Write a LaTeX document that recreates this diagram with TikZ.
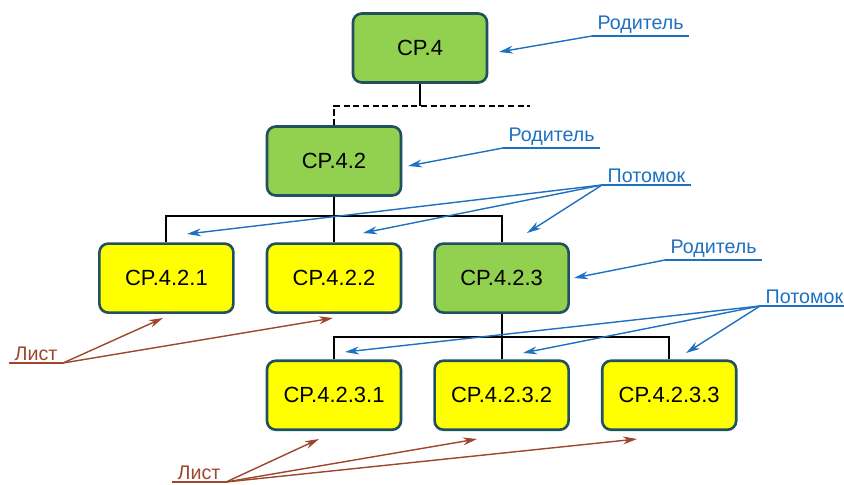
\documentclass[tikz,border=0pt]{standalone}
\usepackage{fontspec}
\setmainfont{Liberation Sans}
\usetikzlibrary{positioning,arrows.meta}
\definecolor{boxgreen}{RGB}{146,208,80}
\definecolor{boxline}{RGB}{33,80,96}
\definecolor{boxyellow}{RGB}{255,255,0}
\definecolor{tagblue}{RGB}{30,112,192}
\definecolor{tagbrown}{RGB}{158,70,44}
\begin{document}
\begin{tikzpicture}[x=0.02cm, y=-0.02cm, node distance={0.91cm and 0.62cm},
    main/.style = {draw=boxline, line width=1.5pt, rounded corners=5pt, minimum width=2.68cm, minimum height=1.38cm, font=\fontsize{12.5}{15}\selectfont},
    parent/.style = {main, fill=boxgreen},
    leaf/.style = {main, fill=boxyellow},
    link/.style = {line width=1.1pt},
    tag/.style = {inner xsep=3pt, inner ysep=1pt, font=\fontsize{11.2}{13}\selectfont},
    pointer/.style = {line width=0.8pt, -{Stealth[length=8pt, width=4.5pt]}}]
    \useasboundingbox (0,0) rectangle (844,484);

    % boxes
    \node[parent] (n4) at (420,48) {CP.4};
    \node[parent] (n42) at (334,161) {CP.4.2};
    \node[leaf] (n422) [below=of n42] {CP.4.2.2};
    \node[leaf] (n421) [left=of n422] {CP.4.2.1};
    \node[parent] (n423) [right=of n422] {CP.4.2.3};
    \node[leaf] (n4232) [below=of n423] {CP.4.2.3.2};
    \node[leaf] (n4231) [left=of n4232] {CP.4.2.3.1};
    \node[leaf] (n4233) [right=of n4232] {CP.4.2.3.3};

    % tree lines
    \draw[link] (n4.south) -- ++(0,22) coordinate (bus0);
    \draw[link, dash pattern=on 3.5pt off 2pt] (n42.north) |- (bus0) -- ++(110,0);
    \draw[link] (n42.south) -- ++(0,19) coordinate (bus1);
    \draw[link] (n421.north) |- (bus1) -| (n423.north);
    \draw[link] (n422.north) -- (n422.north |- bus1);
    \draw[link] (n423.south) -- ++(0,23) coordinate (bus2);
    \draw[link] (n4231.north) |- (bus2) -| (n4233.north);
    \draw[link] (n4232.north) -- (bus2);

    % labels
    \node[tag, tagblue, anchor=south west] (par1) at (592,36) {Родитель};
    \node[tag, tagblue, anchor=south west] (par2) at (503,148) {Родитель};
    \node[tag, tagblue, anchor=south west] (kid1) at (602,185) {Потомок};
    \node[tag, tagblue, anchor=south west] (par3) at (665,260) {Родитель};
    \node[tag, tagblue, anchor=south west] (kid2) at (760,306) {Потомок};
    \node[tag, tagbrown, anchor=south east] (leaf1) at (63,363) {Лист};
    \node[tag, tagbrown, anchor=south east] (leaf2) at (226,482) {Лист};

    \foreach \t in {par1,par2,kid1,par3,kid2}
        \draw[tagblue, line width=0.8pt] (\t.south west) -- (\t.south east);
    \foreach \t in {leaf1,leaf2}
        \draw[tagbrown, line width=0.8pt] (\t.south west) -- (\t.south east);

    % pointers
    \draw[pointer, tagblue] (par1.south west) -- (499,52);
    \draw[pointer, tagblue] (par2.south west) -- (408,166);
    \draw[pointer, tagblue] (par3.south west) -- (574,278);
    \foreach \p in {(187,234),(363,233),(527,233)}
        \draw[pointer, tagblue] (kid1.south west) -- \p;
    \foreach \p in {(345,352),(523,353),(686,353)}
        \draw[pointer, tagblue] (kid2.south west) -- \p;
    \foreach \p in {(163,318),(333,318)}
        \draw[pointer, tagbrown] (leaf1.south east) -- \p;
    \foreach \p in {(319,439),(477,439),(637,439)}
        \draw[pointer, tagbrown] (leaf2.south east) -- \p;
\end{tikzpicture}
\end{document}
